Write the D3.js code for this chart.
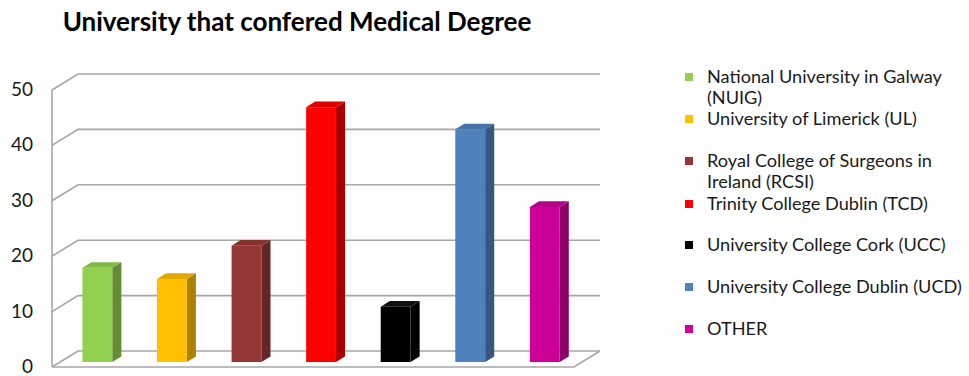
<!DOCTYPE html>
<html><head><meta charset="utf-8">
<script src="https://cdn.jsdelivr.net/npm/d3@7"></script>
<style>body{margin:0;background:#fff}svg{display:block}</style>
</head><body>
<svg id="c" width="969" height="376"></svg>
<script>
const categories = ["National University in Galway (NUIG)","University of Limerick (UL)","Royal College of Surgeons in Ireland (RCSI)","Trinity College Dublin (TCD)","University College Cork (UCC)","University College Dublin (UCD)","OTHER"];
const legendLines = [["National University in Galway","(NUIG)"],["University of Limerick (UL)"],["Royal College of Surgeons in","Ireland (RCSI)"],["Trinity College Dublin (TCD)"],["University College Cork (UCC)"],["University College Dublin (UCD)"],["OTHER"]];
const values = [17, 15, 21, 46, 10, 42, 28];
const colors = ["#92D050","#FFC000","#953735","#FF0000","#000000","#4F81BD","#CC0099"];
const yTicks = [0, 10, 20, 30, 40, 50];
const title = "University that confered Medical Degree";

const svg = d3.select("#c");
const backX0 = 78, backX1 = 600;
const DX = -26, DY = 16; // offset from back to front
const y = d3.scaleLinear().domain([0, 50]).range([351, 74]);
const x = d3.scaleBand().domain(categories).range([0, backX1 - backX0]);
const P = (xb, v, d) => [backX0 + xb + DX * d, y(v) + DY * d];
const grid = "#a6a6a6";

const g = svg.append("g").attr("stroke", grid).attr("stroke-width", 1.6).attr("fill", "none");
yTicks.forEach(t => {
  const a = P(0, t, 1), b = P(0, t, 0), c = P(backX1 - backX0, t, 0);
  g.append("polyline").attr("points", [a, b, c].map(p => p.join(",")).join(" "));
});
g.append("line").attr("x1", P(0,0,1)[0]).attr("y1", P(0,0,1)[1]).attr("x2", P(0,50,1)[0]).attr("y2", P(0,50,1)[1]);
{
  const a = P(0,0,1), b = P(backX1-backX0,0,1), c = P(backX1-backX0,0,0);
  g.append("polyline").attr("points", [a,b,c].map(p=>p.join(",")).join(" "));
}

svg.append("g").selectAll("text").data(yTicks).join("text")
  .attr("x", 33).attr("y", d => P(0, d, 1)[1] + 6)
  .attr("text-anchor", "end").attr("font-family", "Lato, sans-serif").attr("font-size", 19)
  .attr("fill", "#1a1a1a").text(d => d);

const dFront = 0.69, dBack = 0.34;
const bw = x.bandwidth() * 0.4;
const shade = (c, k) => d3.color(c).darker(k).formatHex();
const bars = svg.append("g");
categories.forEach((cat, i) => {
  const v = values[i], c = colors[i];
  const cx = x(cat) + x.bandwidth() / 2;
  const l = cx - bw / 2, r = cx + bw / 2;
  const fl0 = P(l, 0, dFront), fr0 = P(r, 0, dFront), fl1 = P(l, v, dFront), fr1 = P(r, v, dFront);
  const bl1 = P(l, v, dBack), br1 = P(r, v, dBack), br0 = P(r, 0, dBack);
  const pts = a => a.map(p => p.join(",")).join(" ");
  bars.append("polygon").attr("points", pts([fr0, fr1, br1, br0])).attr("fill", i === 4 ? "#000" : shade(c, 1.1));
  bars.append("polygon").attr("points", pts([fl1, fr1, br1, bl1])).attr("fill", i === 4 ? "#111" : shade(c, 0.35));
  bars.append("polygon").attr("points", pts([fl0, fl1, fr1, fr0])).attr("fill", c);
});

const tt = svg.append("text").attr("x", 297).attr("y", 31).attr("text-anchor", "middle")
  .attr("font-family", "Lato, sans-serif").attr("font-weight", "bold").attr("font-size", 24)
  .attr("fill", "#000").text(title);
{ const w = tt.node().getComputedTextLength(); tt.attr("font-size", 24 * 469 / w); }

const lg = svg.append("g");
const entryY = [77, 119, 161, 204, 245, 287, 329];
let fs = 16;
legendLines.forEach((lines, i) => {
  lg.append("rect").attr("x", 685).attr("y", entryY[i] - 4).attr("width", 8).attr("height", 8).attr("fill", colors[i]);
  lines.forEach((ln, j) => {
    lg.append("text").attr("class", "lt").attr("x", 707).attr("y", entryY[i] + 6 + j * 21)
      .attr("font-family", "Lato, sans-serif").attr("font-size", fs).attr("fill", "#1a1a1a").text(ln);
  });
});
{
  const w = d3.max(lg.selectAll("text.lt").nodes(), n => n.getComputedTextLength());
  lg.selectAll("text.lt").attr("font-size", fs * 255 / w);
}
</script>
</body></html>
